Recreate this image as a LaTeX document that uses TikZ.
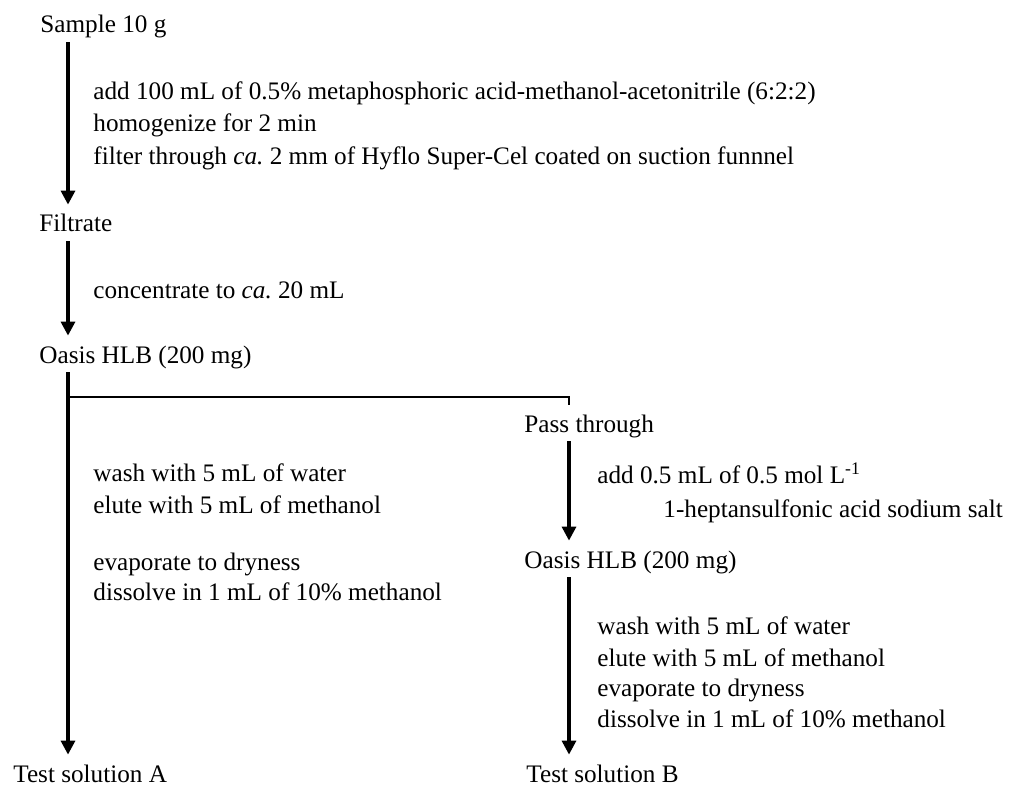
\documentclass[tikz,border=0pt]{standalone}
\usepackage{fontspec}
\setmainfont{Liberation Serif}
\usetikzlibrary{arrows.meta,positioning}

\begin{document}
\begin{tikzpicture}[x=0.5pt,y=-0.5pt]
				\tikzstyle{Stage}	= [anchor=base west, inner sep=0pt, text height=13.5pt, text depth=4.5pt, font=\fontsize{12.6}{15}\selectfont]
				\tikzstyle{Step}	= [anchor=base west, inner sep=0pt, font=\fontsize{12.6}{15}\selectfont]
				\tikzstyle{Flow}	= [line width=1.6pt, -{Triangle[length=7pt,width=7pt]}]
				\tikzstyle{Branch}	= [line width=1.2pt]

				\useasboundingbox (0,0) rectangle (1011,786);

				\coordinate (ca) at (68,0);
				\coordinate (cb) at (569,0);
				\coordinate (split) at (68,397);

				\node (sam) at (40,33) [Stage] {Sample 10 g};
				\node (fil) at (39,232) [Stage] {Filtrate};
				\node (oa) at (39,363) [Stage] {Oasis HLB (200 mg)};
				\node (pt) at (524,432) [Stage] {Pass through};
				\node (ob) at (524,568) [Stage] {Oasis HLB (200 mg)};
				\node (ta) at (13,782) [Stage] {Test solution A};
				\node (tb) at (526,782) [Stage] {Test solution B};

				\node (s1a) at (93,100) [Step] {add 100 mL of 0.5\% metaphosphoric acid-methanol-acetonitrile (6:2:2)};
				\node (s1b) at (93,132) [Step] {homogenize for 2 min};
				\node (s1c) at (93,165) [Step] {filter through \textit{ca.}\ 2 mm of Hyflo Super-Cel coated on suction funnnel};
				\node (s2a) at (93,298) [Step] {concentrate to \textit{ca.}\ 20 mL};
				\node (s3a) at (93,481) [Step] {wash with 5 mL of water};
				\node (s3b) at (93,513) [Step] {elute with 5 mL of methanol};
				\node (s3c) at (93,570) [Step] {evaporate to dryness};
				\node (s3d) at (93,600) [Step] {dissolve in 1 mL of 10\% methanol};
				\node (s4a) at (597,483) [Step] {add 0.5 mL of 0.5 mol L\textsuperscript{-1}};
				\node (s4b) at (663,517) [Step] {1-heptansulfonic acid sodium salt};
				\node (s5a) at (597,634) [Step] {wash with 5 mL of water};
				\node (s5b) at (597,666) [Step] {elute with 5 mL of methanol};
				\node (s5c) at (597,696) [Step] {evaporate to dryness};
				\node (s5d) at (597,727) [Step] {dissolve in 1 mL of 10\% methanol};

				\draw [Flow] (sam.south -| ca) to (fil.north -| ca);
				\draw [Flow] (fil.south -| ca) to (oa.north -| ca);
				\draw [Flow] (oa.south -| ca) to (ta.north -| ca);
				\draw [Branch] (split) -| (pt.north -| cb);
				\draw [Flow] (pt.south -| cb) to (ob.north -| cb);
				\draw [Flow] (ob.south -| cb) to (tb.north -| cb);
			\end{tikzpicture}
\end{document}
